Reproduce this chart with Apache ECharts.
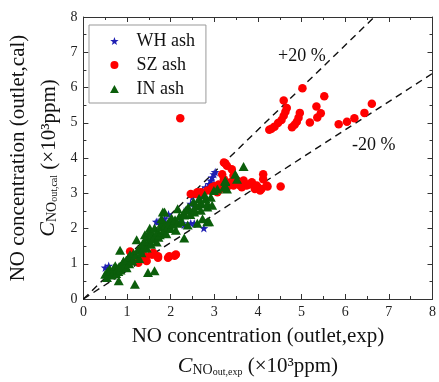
<!DOCTYPE html>
<html>
<head>
<meta charset="utf-8">
<script src="https://cdn.jsdelivr.net/npm/echarts@6/dist/echarts.min.js"></script>
<style>html,body{margin:0;padding:0;background:#fff}#c{width:439px;height:382px}</style>
</head>
<body>
<div id="c"></div>
<script>
var seriesNames = ['WH ash', 'SZ ash', 'IN ash'];
var xTickLabels = ['0','1','2','3','4','5','6','7','8'];
var yTickLabels = ['0','1','2','3','4','5','6','7','8'];
var plus20Line = [[0, 0], [6.667, 8]];
var minus20Line = [[0, 0], [8, 6.4]];
var lineLabels = ['+20 %', '-20 %'];

var whPoints = [
  [0.50,0.89],[0.58,0.94],[1.67,2.19],[1.71,2.19],[1.79,2.10],[1.86,2.28],[1.95,2.40],
  [2.01,2.15],[2.09,2.19],[2.24,2.28],[2.28,2.15],[2.31,2.10],[2.39,2.56],[2.46,2.70],
  [2.46,2.15],[2.54,2.15],[2.50,2.89],[2.65,2.98],[2.73,3.08],[2.73,2.98],[2.76,2.01],
  [2.80,3.17],[2.88,3.26],[2.88,3.17],[2.92,3.36],[2.95,3.45],[2.99,3.54],[2.99,3.26],
  [3.02,3.60]
];
var szPoints = [
  [1.07,1.35],[1.26,1.07],[1.26,1.03],[1.37,1.22],[1.41,1.21],[1.45,1.08],[1.56,1.26],
  [1.60,1.26],[1.60,1.31],[1.71,1.17],[1.71,1.21],[1.94,1.17],[1.97,1.21],[2.09,1.23],
  [2.12,1.26],
  [2.46,2.98],[2.58,2.98],[2.61,3.03],[2.69,3.03],[2.84,3.08],[2.95,3.17],[2.99,3.08],
  [3.00,3.20],[3.07,3.03],[3.10,3.25],[3.14,3.12],[3.18,3.54],[3.22,3.40],[3.22,3.87],
  [3.25,3.85],[3.29,3.78],[3.29,3.17],[3.37,3.31],[3.40,3.68],[3.44,3.50],[3.44,3.22],
  [3.52,3.36],[3.55,3.30],[3.59,3.22],[3.63,3.17],[3.67,3.36],[3.71,3.26],[3.74,3.22],
  [3.80,3.25],[3.86,3.31],[3.93,3.12],[3.97,3.22],[4.05,3.08],[4.08,3.12],[4.12,3.54],
  [4.12,3.40],[4.20,3.22],[4.22,3.19],[4.52,3.19],
  [2.22,5.13],
  [5.02,5.98],[5.52,5.75],[4.59,5.63],[4.66,5.42],[4.63,5.31],[4.59,5.20],[4.54,5.08],
  [4.46,4.99],[4.38,4.89],[4.31,4.83],[4.26,4.80],[4.96,5.28],[4.93,5.14],[4.89,5.03],
  [4.84,4.94],[4.78,4.87],[5.34,5.46],[5.44,5.27],[5.36,5.15],[5.19,5.01],[5.85,4.96],
  [6.04,5.03],[6.21,5.13],[6.44,5.28],[6.61,5.54]
];
var inPoints = [
  [0.50,0.70],[0.54,0.61],[0.55,0.78],[0.58,0.72],[0.60,0.85],[0.62,0.80],[0.65,0.68],
  [0.68,0.75],[0.70,0.88],[0.72,0.80],[0.73,0.94],[0.75,0.72],[0.78,0.85],[0.80,0.78],
  [0.81,0.52],[0.82,0.92],[0.84,1.38],[0.85,0.82],[0.88,0.95],[0.90,1.02],[0.92,1.08],
  [0.95,0.90],[0.98,1.10],[0.99,0.89],[1.02,1.15],[1.05,1.00],[1.07,1.26],[1.10,1.20],
  [1.12,1.08],[1.15,1.30],[1.18,0.42],[1.20,1.25],[1.22,1.68],[1.25,1.40],[1.28,1.15],
  [1.30,1.40],[1.33,1.31],[1.35,1.55],[1.38,1.45],[1.40,1.60],[1.41,1.82],[1.45,1.45],
  [1.45,1.77],[1.48,0.75],[1.50,1.65],[1.52,2.01],[1.52,1.91],[1.55,1.55],[1.56,1.73],
  [1.56,1.87],[1.60,1.70],[1.63,2.01],[1.63,0.80],[1.65,1.80],[1.68,1.62],[1.70,1.90],
  [1.72,1.75],[1.75,1.82],[1.78,2.05],[1.79,2.15],[1.79,2.28],[1.82,1.91],[1.82,2.47],
  [1.85,1.95],[1.86,2.47],[1.88,2.10],[1.90,1.85],[1.94,2.05],[1.96,2.20],[2.00,2.00],
  [2.02,2.30],[2.05,2.12],[2.10,2.25],[2.12,1.95],[2.16,2.15],[2.16,2.56],[2.20,2.35],
  [2.25,2.20],[2.30,2.45],[2.31,2.38],[2.31,1.73],[2.35,2.52],[2.39,2.10],[2.40,2.60],
  [2.45,2.40],[2.52,2.75],[2.54,2.56],[2.54,2.47],[2.58,2.65],[2.61,2.15],[2.65,2.85],
  [2.69,2.70],[2.69,2.75],[2.69,2.52],[2.73,2.28],[2.78,2.95],[2.80,2.84],[2.84,2.61],
  [2.84,2.70],[2.84,2.19],[2.88,2.19],[2.92,2.89],[2.95,2.66],[2.99,3.08],[3.07,3.12],
  [3.22,3.17],[3.25,3.33],[3.25,3.36],[3.29,3.12],[3.48,3.54],[3.52,3.40],[3.67,3.76]
];

var FONT = 'Liberation Serif';
var STAR = 'path://M0,-10 L2.35,-3.24 L9.51,-3.09 L3.8,1.24 L5.88,8.09 L0,4 L-5.88,8.09 L-3.8,1.24 L-9.51,-3.09 L-2.35,-3.24 Z';
var TRI = 'path://M0,0 L10,0 L5,-9 Z';

var chart = echarts.init(document.getElementById('c'), null, {renderer: 'canvas'});

function axisCommon(labels, show) {
  return {
    type: 'value', min: 0, max: 8, interval: 1,
    axisLine: {show: true, onZero: false, lineStyle: {color: '#333', width: 1}},
    axisTick: {show: true, inside: true, length: 5, lineStyle: {color: '#333'}},
    minorTick: {show: true, splitNumber: 2, length: 3, lineStyle: {color: '#333'}},
    splitLine: {show: false},
    axisLabel: {show: show, fontFamily: FONT, fontSize: 14, color: '#222',
      formatter: function (v) { return labels[Math.round(v)]; }}
  };
}

var richCommon = {
  t: {fontFamily: FONT, fontSize: 21, color: '#111', lineHeight: 30},
  c: {fontFamily: FONT, fontSize: 22, fontStyle: 'italic', color: '#111', lineHeight: 26, verticalAlign: 'bottom'},
  s: {fontFamily: FONT, fontSize: 14, color: '#111', lineHeight: 10, verticalAlign: 'bottom'},
  ss: {fontFamily: FONT, fontSize: 10, color: '#111', lineHeight: 2, verticalAlign: 'bottom'},
  p: {fontFamily: FONT, fontSize: 21, color: '#111', lineHeight: 26, verticalAlign: 'bottom'}
};

var xa0 = axisCommon(xTickLabels, true);
xa0.position = 'bottom';
xa0.axisLabel.margin = 6;
xa0.name = '{t|NO concentration (outlet,exp)}\n{c|C}{s|NO}{ss|out,exp}{p| (×10³ppm)}';
xa0.nameLocation = 'middle';
xa0.nameGap = 22;
xa0.nameTextStyle = {rich: richCommon};
var xa1 = axisCommon(xTickLabels, false);
xa1.position = 'top';

var ya0 = axisCommon(yTickLabels, true);
ya0.position = 'left';
ya0.axisLabel.margin = 6;
ya0.name = '{t|NO concentration (outlet,cal)}\n{c|C}{s|NO}{ss|out,cal}{p| (×10³ppm)}';
ya0.nameLocation = 'middle';
ya0.nameGap = 20;
ya0.nameTextStyle = {rich: richCommon};
var ya1 = axisCommon(yTickLabels, false);
ya1.position = 'right';

chart.setOption({
  animation: false,
  backgroundColor: '#fff',
  grid: {left: 81, right: 4, top: 17, bottom: 78},
  xAxis: [xa0, xa1],
  yAxis: [ya0, ya1],
  legend: {
    data: seriesNames,
    orient: 'vertical',
    left: 89, top: 25,
    padding: [7, 11, 5, 21],
    itemWidth: 34, itemHeight: 8, itemGap: 6,
    borderColor: '#999', borderWidth: 1,
    symbolKeepAspect: true,
    textStyle: {fontFamily: FONT, fontSize: 18, color: '#111', lineHeight: 18}
  },
  graphic: [
    {type: 'text', left: 278, top: 47, style: {text: lineLabels[0], font: '18px "Liberation Serif"', fill: '#111'}},
    {type: 'text', left: 352, top: 136, style: {text: lineLabels[1], font: '18px "Liberation Serif"', fill: '#111'}}
  ],
  series: [
    {type: 'line', data: plus20Line, symbol: 'none', silent: true, z: 1,
      lineStyle: {color: '#111', width: 1.4, type: [7, 5]}},
    {type: 'line', data: minus20Line, symbol: 'none', silent: true, z: 1,
      lineStyle: {color: '#111', width: 1.4, type: [7, 5]}},
    {name: seriesNames[0], type: 'scatter', data: whPoints, symbol: STAR, symbolSize: 9,
      symbolKeepAspect: true, itemStyle: {color: '#1f1fb3', opacity: 1}},
    {name: seriesNames[1], type: 'scatter', data: szPoints, symbol: 'circle', symbolSize: 8.5,
      itemStyle: {color: '#ff0000', opacity: 1}},
    {name: seriesNames[2], type: 'scatter', data: inPoints, symbol: TRI, symbolSize: 10,
      symbolKeepAspect: true, itemStyle: {color: '#0b5e0b', opacity: 1}}
  ]
});
</script>
</body>
</html>
